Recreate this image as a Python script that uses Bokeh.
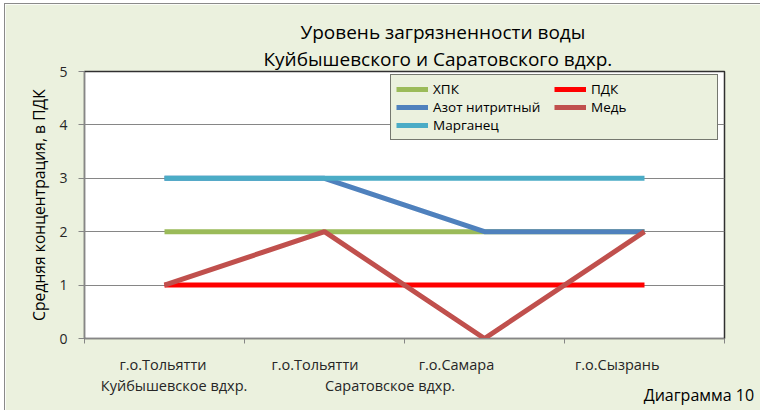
from bokeh.plotting import figure
from bokeh.models import Range1d, FixedTicker, LinearAxis, Legend, LegendItem, Title
from bokeh.embed import file_html
from bokeh.resources import INLINE

# ---- data ----
cities = ["г.о.Тольятти", "г.о.Тольятти", "г.о.Самара", "г.о.Сызрань"]
reservoirs = ["Куйбышевское вдхр.", "Саратовское вдхр."]
series_names = ["ХПК", "ПДК", "Азот нитритный", "Медь", "Марганец"]
xpk = [2, 2, 2, 2]
pdk = [1, 1, 1, 1]
azot = [3, 3, 2, 2]
med = [1, 2, 0, 2]
marg = [3, 3, 3, 3]
y_ticks = [0, 1, 2, 3, 4, 5]
title_lines = ["Уровень загрязненности воды", "Куйбышевского и Саратовского вдхр."]
y_title = "Средняя концентрация, в ПДК"
footnote = "Диаграмма 10"

# ---- layout constants ----
city_label_pos = [0.49, 1.44, 2.325, 3.33]
res_label_pos = [0.56, 1.91]
footnote_pos = 3.84
colors = ["#9BBB59", "#FF0000", "#4F81BD", "#C0504D", "#4BACC6"]
FONT = "Open Sans"
BG = "#EBF1DE"
TXT = "#262626"
GRID = "#868686"

xs = [i + 0.5 for i in range(len(cities))]

p = figure(width=756, height=407, output_backend="svg", toolbar_location=None,
           x_range=Range1d(0, len(cities)), y_range=Range1d(0, 5),
           min_border_left=79, min_border_right=37, min_border_top=67, min_border_bottom=73,
           background_fill_color="white", border_fill_color=BG,
           outline_line_color="#303030", outline_line_width=1.5,
           styles={"margin-left": "4px", "margin-top": "3px",
                   "border-left": "1px solid #8a8a8a", "border-top": "1px solid #8a8a8a"})

# title: two centered lines (nearest to frame first)
p.add_layout(Title(text=title_lines[1], align="left", offset=179, text_font=FONT,
                   text_font_size="19px", text_font_style="normal", text_color="black",
                   standoff=0), "above")
p.add_layout(Title(text=title_lines[0], align="left", offset=216, text_font=FONT,
                   text_font_size="19px", text_font_style="normal", text_color="black",
                   standoff=-3), "above")

# y axis
p.yaxis.ticker = FixedTicker(ticks=y_ticks)
p.yaxis.major_tick_out = 6
p.yaxis.major_tick_in = 0
p.yaxis.minor_tick_line_color = None
p.yaxis.axis_line_color = GRID
p.yaxis.major_tick_line_color = GRID
p.yaxis.major_label_standoff = 11
p.yaxis.major_label_text_font = FONT
p.yaxis.major_label_text_font_size = "14px"
p.yaxis.major_label_text_color = TXT
p.yaxis.axis_label = y_title
p.yaxis.axis_label_text_font = FONT
p.yaxis.axis_label_text_font_size = "15.7px"
p.yaxis.axis_label_text_font_style = "normal"
p.yaxis.axis_label_text_color = "black"
p.yaxis.axis_label_standoff = 6

# main x axis (category boundaries)
p.xaxis.ticker = FixedTicker(ticks=list(range(len(cities) + 1)))
p.xaxis.major_tick_out = 5
p.xaxis.major_tick_in = 0
p.xaxis.minor_tick_line_color = None
p.xaxis.axis_line_color = GRID
p.xaxis.major_tick_line_color = GRID
p.xaxis.major_label_text_font_size = "1px"
p.xaxis.major_label_text_alpha = 0
p.xaxis.major_label_standoff = 0


def label_axis(pos, texts, standoff, size, color):
    return LinearAxis(ticker=FixedTicker(ticks=pos),
                      major_label_overrides={k: v for k, v in zip(pos, texts)},
                      axis_line_color=None, major_tick_line_color=None, minor_tick_line_color=None,
                      major_tick_out=0, major_tick_in=0, minor_tick_out=0, minor_tick_in=0,
                      major_label_standoff=standoff, major_label_text_font=FONT,
                      major_label_text_font_size=size, major_label_text_color=color)


p.add_layout(label_axis(city_label_pos, cities, 11, "14.5px", TXT), "below")
p.add_layout(label_axis(res_label_pos, reservoirs, -1, "14.5px", TXT), "below")
p.add_layout(label_axis([footnote_pos], [footnote], -14, "16px", "black"), "below")

p.xgrid.grid_line_color = None
p.ygrid.ticker = FixedTicker(ticks=y_ticks)
p.ygrid.grid_line_color = GRID

renderers = []
for vals, c in zip([xpk, pdk, azot, med, marg], colors):
    r = p.line(xs, vals, line_color=c, line_width=5)
    renderers.append(r)

legend = Legend(items=[LegendItem(label=n, renderers=[r]) for n, r in zip(series_names, renderers)],
                orientation="horizontal", ncols=2, location=(306, 198),
                border_line_color="black", border_line_width=1,
                background_fill_color=BG, background_fill_alpha=1,
                padding=5, spacing=0, margin=0, glyph_width=32, glyph_height=16,
                label_height=16, label_width=121, label_standoff=5,
                label_text_font=FONT, label_text_font_size="13.5px", label_text_color="black")
p.add_layout(legend, "center")

open("out.html", "w").write(file_html(p, INLINE))
